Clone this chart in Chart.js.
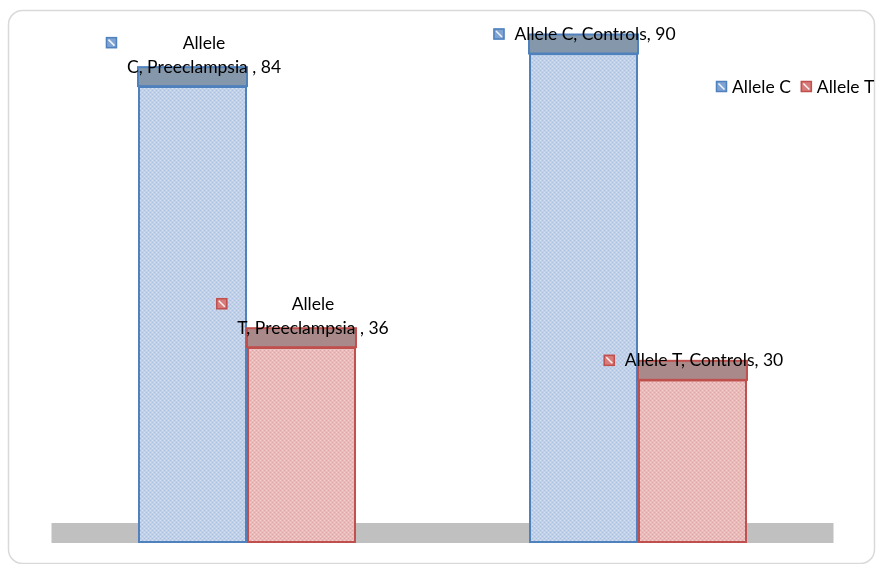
<!DOCTYPE html>
<html>
<head>
<meta charset="utf-8">
<title>Allele C / Allele T</title>
<script src="https://cdn.jsdelivr.net/npm/chart.js@4.4.1/dist/chart.umd.min.js"></script>
<style>
	html, body { margin: 0; padding: 0; background: #fff; }
	#allele-bar { display: block; }
</style>
</head>
<body>
<canvas id="allele-bar" width="877" height="564"></canvas>
<script>
//
// Allele bars chart
//

// Data
var categories = ['Preeclampsia ', 'Controls'];
var seriesNames = ['Allele C', 'Allele T'];
var alleleC = [84, 90];
var alleleT = [36, 30];
var yMax = 98;

var AlleleBar = (function() {

	//
	// Variables
	//

	var canvas = document.getElementById('allele-bar');
	var ctx = canvas.getContext('2d');
	var font = '17.5px Lato, "Open Sans", sans-serif';
	var capDepth = 19;
	var floorDepth = 20;

	var palette = [
		{ border: '#4f81bd', base: '#bfd0e8', light: '#d6e2f2', dark: '#abc1df', cap: '#8598ab', key: '#7fa3d3' },
		{ border: '#c0504d', base: '#eababa', light: '#f4d2d2', dark: '#dfa7a6', cap: '#a98989', key: '#d77c7a' }
	];


	//
	// Methods
	//

	// Fine dotted fill like the office texture
	function makePattern(c) {
		var p = document.createElement('canvas');
		p.width = 4;
		p.height = 4;
		var g = p.getContext('2d');
		g.fillStyle = c.base;
		g.fillRect(0, 0, 4, 4);
		g.fillStyle = c.light;
		g.fillRect(0, 0, 1, 1);
		g.fillRect(2, 2, 1, 1);
		g.fillStyle = c.dark;
		g.fillRect(2, 0, 1, 1);
		g.fillRect(0, 2, 1, 1);
		return ctx.createPattern(p, 'repeat');
	}

	palette.forEach(function(c) { c.pattern = makePattern(c); });

	// Small legend key square
	function drawKey(g, x, y, c) {
		g.save();
		g.fillStyle = c.key;
		g.fillRect(x, y, 11, 11);
		g.strokeStyle = 'rgba(255,255,255,0.9)';
		g.lineWidth = 1.5;
		g.beginPath();
		g.moveTo(x + 2.5, y + 2.5);
		g.lineTo(x + 8.5, y + 8.5);
		g.stroke();
		g.strokeStyle = c.border;
		g.lineWidth = 1.5;
		g.strokeRect(x + 0.5, y + 0.5, 10, 10);
		g.restore();
	}

	var officePlugin = {
		id: 'office',
		beforeDraw: function(chart) {
			var g = chart.ctx;
			g.save();
			g.strokeStyle = '#d9d9d9';
			g.lineWidth = 1.5;
			g.beginPath();
			g.roundRect(8.5, 10.5, 866, 553, 14);
			g.stroke();
			g.restore();
		},
		beforeDatasetsDraw: function(chart) {
			var g = chart.ctx;
			var area = chart.chartArea;
			var zeroY = chart.scales.y.getPixelForValue(0);
			g.save();
			g.fillStyle = '#c0c0c0';
			g.fillRect(area.left, zeroY - floorDepth, area.right - area.left, floorDepth);
			g.restore();
		},
		afterDatasetsDraw: function(chart) {
			var g = chart.ctx;
			g.save();

			// bar tops
			chart.data.datasets.forEach(function(ds, di) {
				var c = palette[di];
				chart.getDatasetMeta(di).data.forEach(function(bar) {
					var left = bar.x - bar.width / 2;
					g.fillStyle = c.cap;
					g.fillRect(left, bar.y - capDepth, bar.width, capDepth);
					g.strokeStyle = c.border;
					g.lineWidth = 2;
					g.strokeRect(left, bar.y - capDepth, bar.width, capDepth);
				});
			});

			// data labels
			g.font = font;
			g.fillStyle = '#000';
			g.textBaseline = 'middle';
			g.textAlign = 'center';
			chart.data.datasets.forEach(function(ds, di) {
				var c = palette[di];
				chart.getDatasetMeta(di).data.forEach(function(bar, i) {
					var text = seriesNames[di] + ', ' + categories[i] + ', ' + ds.data[i];
					var lines = [text];
					if (g.measureText(text).width > 170) {
						var cut = text.indexOf(' ');
						lines = [text.slice(0, cut), text.slice(cut + 1)];
					}
					var textW = Math.max.apply(null, lines.map(function(l) { return g.measureText(l).width; }));
					var blockW = 21 + textW;
					var left = bar.x + 1 - blockW / 2;
					var lastY = bar.y - capDepth;
					var firstY = lastY - (lines.length - 1) * 24;
					drawKey(g, left, firstY - 6, c);
					lines.forEach(function(l, k) {
						g.fillText(l, left + 21 + textW / 2, firstY + k * 24);
					});
				});
			});

			g.restore();
		},
		afterDraw: function(chart) {
			var g = chart.ctx;
			g.save();
			g.font = font;
			g.fillStyle = '#000';
			g.textBaseline = 'middle';
			g.textAlign = 'left';
			var x = 716;
			var y = 87;
			chart.data.datasets.forEach(function(ds, di) {
				drawKey(g, x, y - 6, palette[di]);
				g.fillText(ds.label, x + 16, y);
				x += 16 + g.measureText(ds.label).width + 10;
			});
			g.restore();
		}
	};

	// Init chart
	function initChart() {

		// Create chart
		var alleleBar = new Chart(canvas, {
			type: 'bar',
			data: {
				labels: categories,
				datasets: [{
					label: seriesNames[0],
					data: alleleC,
					backgroundColor: palette[0].pattern,
					borderColor: palette[0].border,
					borderWidth: 2,
					borderSkipped: false
				}, {
					label: seriesNames[1],
					data: alleleT,
					backgroundColor: palette[1].pattern,
					borderColor: palette[1].border,
					borderWidth: 2,
					borderSkipped: false
				}]
			},
			options: {
				responsive: false,
				animation: false,
				categoryPercentage: 0.5575,
				barPercentage: 1,
				layout: {
					padding: { left: 51.5, right: 43.5, top: 10, bottom: 21 }
				},
				scales: {
					x: { display: false },
					y: { display: false, min: 0, max: yMax }
				},
				plugins: {
					legend: { display: false },
					tooltip: { enabled: false }
				}
			},
			plugins: [officePlugin]
		});

		return alleleBar;
	}

	return initChart();

})();
</script>
</body>
</html>
